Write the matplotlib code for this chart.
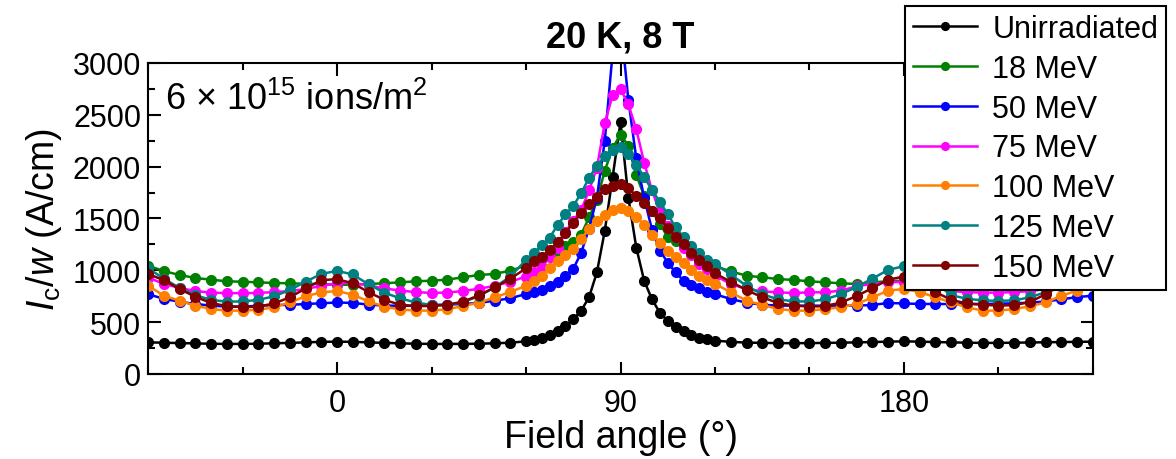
import numpy as np
import matplotlib.pyplot as plt
from matplotlib.ticker import MultipleLocator, FixedLocator

plt.rcParams['font.family'] = ['Liberation Sans', 'DejaVu Sans']
plt.rcParams['mathtext.fontset'] = 'custom'
plt.rcParams['mathtext.rm'] = 'Liberation Sans'
plt.rcParams['mathtext.it'] = 'Liberation Sans:italic'

# field angles (deg): 5 deg steps, 2.5 deg steps around the 90 deg peak
angle = ([-60, -55, -50, -45, -40, -35, -30, -25, -20, -15, -10, -5, 0,
          5, 10, 15, 20, 25, 30, 35, 40, 45, 50, 55, 60]
         + [62.5, 65, 67.5, 70, 72.5, 75, 77.5, 80, 82.5, 85, 87.5, 90,
            92.5, 95, 97.5, 100, 102.5, 105, 107.5, 110, 112.5, 115, 117.5]
         + [120, 125, 130, 135, 140, 145, 150, 155, 160, 165, 170, 175, 180,
            185, 190, 195, 200, 205, 210, 215, 220, 225, 230, 235, 240])

# Ic/w (A/cm)
unirr = ([305, 302, 298, 295, 292, 290, 290, 292, 296, 300, 305, 310, 312,
          310, 305, 300, 296, 292, 290, 290, 290, 292, 296, 302, 315]
         + [328, 345, 372, 410, 460, 530, 610, 740, 980, 1380, 1900, 2430,
            1700, 1220, 900, 720, 590, 510, 455, 410, 378, 352, 333]
         + [322, 310, 303, 300, 298, 297, 298, 300, 302, 305, 308, 312, 315,
            312, 308, 305, 302, 300, 300, 302, 304, 306, 308, 310, 312])

mev18 = ([1045, 993, 955, 926, 910, 894, 890, 884, 878, 875, 870, 868, 860,
          862, 868, 875, 884, 894, 900, 910, 933, 955, 965, 997, 1045]
         + [1090, 1120, 1160, 1190, 1230, 1270, 1345, 1510, 1680, 1960, 2180, 2310,
            2200, 1920, 1720, 1570, 1450, 1320, 1280, 1230, 1165, 1110, 1070]
         + [1040, 990, 948, 933, 916, 907, 894, 884, 875, 868, 884, 895, 900,
            895, 890, 885, 880, 885, 890, 900, 915, 935, 960, 990, 1020])

mev50 = ([770, 725, 697, 675, 660, 650, 650, 658, 665, 667, 675, 682, 690,
          685, 670, 660, 658, 658, 665, 670, 675, 685, 707, 730, 772]
         + [790, 810, 850, 885, 950, 1013, 1170, 1400, 1700, 2250, 3100, 3400,
            2640, 2080, 1700, 1390, 1190, 1075, 980, 900, 860, 830, 790]
         + [770, 723, 688, 668, 660, 659, 659, 659, 659, 659, 666, 685, 680,
            676, 675, 675, 675, 676, 678, 682, 688, 700, 720, 742, 755])

mev75 = ([930, 870, 830, 800, 785, 780, 780, 782, 790, 800, 820, 850, 875,
          880, 855, 825, 805, 790, 782, 786, 800, 822, 850, 890, 940]
         + [985, 1030, 1130, 1215, 1370, 1480, 1580, 1770, 1990, 2420, 2690, 2749,
            2600, 2360, 2040, 1770, 1560, 1430, 1320, 1220, 1145, 1060, 1010]
         + [950, 868, 820, 797, 788, 781, 788, 788, 804, 846, 870, 884, 890,
            870, 830, 800, 790, 785, 785, 790, 800, 820, 850, 880, 920])

mev100 = ([852, 756, 707, 659, 627, 611, 611, 620, 643, 691, 749, 788, 800,
           765, 700, 650, 622, 612, 611, 625, 655, 688, 738, 792, 850]
          + [900, 950, 1020, 1090, 1150, 1210, 1300, 1400, 1480, 1535, 1580, 1605,
             1570, 1515, 1440, 1345, 1265, 1190, 1125, 1070, 1000, 945, 910]
          + [870, 788, 707, 666, 627, 611, 611, 627, 643, 675, 740, 804, 820,
             790, 740, 690, 643, 611, 611, 627, 653, 691, 755, 804, 850])

mev125 = ([1020, 920, 830, 760, 715, 698, 700, 715, 750, 810, 890, 965, 995,
           960, 865, 785, 730, 690, 665, 662, 695, 750, 835, 940, 1100]
          + [1170, 1240, 1315, 1435, 1540, 1620, 1745, 1890, 2010, 2100, 2165, 2186,
             2120, 2020, 1900, 1775, 1660, 1540, 1415, 1320, 1238, 1170, 1100]
          + [1060, 960, 850, 770, 720, 700, 700, 720, 770, 840, 920, 1005, 1040,
             990, 880, 760, 725, 710, 705, 710, 740, 790, 850, 940, 1050])

mev150 = ([965, 905, 820, 745, 685, 655, 645, 650, 680, 740, 825, 905, 915,
           875, 790, 715, 668, 655, 656, 668, 698, 758, 835, 918, 1020]
          + [1090, 1130, 1200, 1270, 1360, 1460, 1555, 1640, 1710, 1780, 1815, 1833,
             1790, 1720, 1650, 1575, 1500, 1410, 1325, 1250, 1170, 1100, 1040]
          + [970, 890, 810, 740, 685, 660, 650, 655, 690, 752, 830, 910, 940,
             880, 790, 715, 680, 668, 660, 664, 695, 770, 860, 940, 990])

labels = ['Unirradiated', '18 MeV', '50 MeV', '75 MeV', '100 MeV', '125 MeV', '150 MeV']
colors = ['#000000', '#008000', '#0000ff', '#ff00ff', '#ff8000', '#008080', '#800000']
series = [unirr, mev18, mev50, mev75, mev100, mev125, mev150]

fig = plt.figure(figsize=(11.76, 4.6), dpi=100)
ax = fig.add_axes([0.1259, 0.1848, 0.8035, 0.6761])

for y, lab, c in zip(series, labels, colors):
    ax.plot(angle, y, '-o', color=c, label=lab, lw=1.8, ms=7)

ax.set_xlim(-60, 240)
ax.set_ylim(0, 3000)
ax.xaxis.set_major_locator(FixedLocator([0, 90, 180]))
ax.xaxis.set_minor_locator(MultipleLocator(30))
ax.yaxis.set_major_locator(MultipleLocator(500))
ax.yaxis.set_minor_locator(MultipleLocator(250))
ax.tick_params(which='both', direction='in', top=True, right=True, width=1.5,
               labelsize=22)
ax.tick_params(which='major', length=9)
ax.tick_params(which='minor', length=5)
ax.tick_params(axis='x', pad=10)
ax.tick_params(axis='y', pad=5)
for s in ax.spines.values():
    s.set_linewidth(1.5)

ax.set_xlabel('Field angle (°)', fontsize=27, labelpad=1)
ax.set_ylabel(r'$I_\mathrm{c}$/$w$ (A/cm)', fontsize=27, labelpad=6)
ax.set_title('20 K, 8 T', fontweight='bold', fontsize=26, pad=12)

ax.text(0.018, 0.885, r'6 × 10$^{15}$ ions/m$^{2}$', transform=ax.transAxes,
        fontsize=26, va='center', ha='left')

leg = ax.legend(loc='upper left', bbox_to_anchor=(0.7696, 0.984),
                bbox_transform=fig.transFigure, fontsize=22, frameon=True,
                fancybox=False, edgecolor='black', framealpha=1,
                borderpad=0.25, labelspacing=0.32, handlelength=2.1,
                handletextpad=0.5, borderaxespad=0, markerscale=0.8)
leg.get_frame().set_linewidth(1.5)

fig.savefig('out.png', dpi=100)
